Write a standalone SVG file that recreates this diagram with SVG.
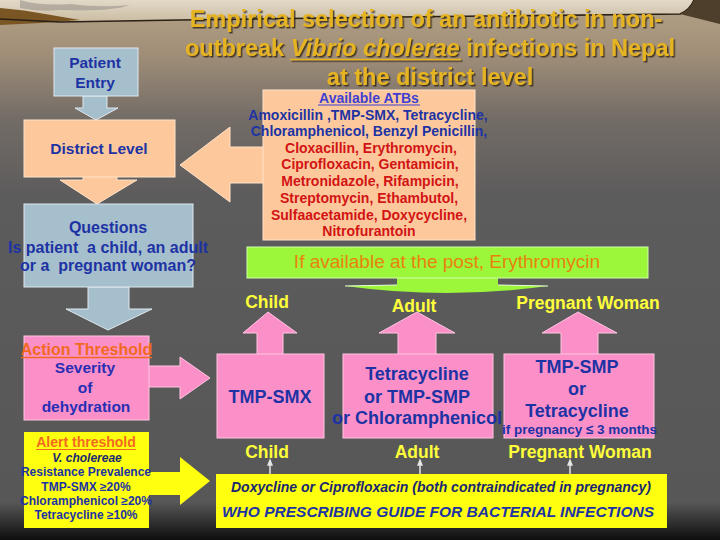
<svg xmlns="http://www.w3.org/2000/svg" width="720" height="540" viewBox="0 0 720 540">
<defs>
<linearGradient id="bg" x1="0" y1="0" x2="0" y2="1">
<stop offset="0" stop-color="#b4a286"/>
<stop offset="0.1" stop-color="#a08e78"/>
<stop offset="0.22" stop-color="#736c66"/>
<stop offset="0.36" stop-color="#5d5c5c"/>
<stop offset="0.93" stop-color="#575757"/>
<stop offset="1" stop-color="#0e0e0e"/>
</linearGradient>
<linearGradient id="sky" x1="0" y1="0" x2="0" y2="1">
<stop offset="0" stop-color="#e2d9c8"/>
<stop offset="1" stop-color="#cbbca2"/>
</linearGradient>
<filter id="sh" x="-5%" y="-20%" width="110%" height="150%">
<feDropShadow dx="1.5" dy="1.5" stdDeviation="0.6" flood-color="#2a2010" flood-opacity="0.8"/>
</filter>
<marker id="ah" viewBox="0 0 10 10" refX="5" refY="5" markerWidth="5" markerHeight="5" orient="auto">
<path d="M0,1 L10,5 L0,9 Z" fill="#e6e6e6"/>
</marker>
<style>
text{font-family:"Liberation Sans",Arial,sans-serif;font-weight:bold}
.ttl{font-size:23.5px;fill:#e6b322}
.blue{fill:#1d33a4}
.navy{fill:#1a2870}
.red{fill:#d21414}
.org{fill:#f26a1e}
.yel{fill:#ffff3a;font-size:17.5px}
.m{text-anchor:middle}
.bg-blue{fill:#a6bfcc;stroke:#dfe8ee;stroke-width:1}
.peach{fill:#fdc99c;stroke:#ffe2c8;stroke-width:1}
.pink{fill:#fb90c8;stroke:#ffc4e2;stroke-width:1}
.ylw{fill:#ffff10}
.grn{fill:#9cf63a;stroke:#d2ffac;stroke-width:1}
</style>
</defs>

<rect width="720" height="540" fill="url(#bg)"/>
<path d="M0,0 H694 Q690,10 680,14 L400,17 L180,20 L60,22 L0,19 Z" fill="url(#sky)"/>
<path d="M20,0 Q40,6 70,4 Q100,8 130,5 Q110,12 60,10 Q40,12 20,8 Z" fill="#9a958c" opacity="0.6"/>
<path d="M0,8 Q25,10 45,14 L80,20 L40,23 L0,25 Z" fill="#7a5624"/>
<path d="M0,19 L60,22 L180,20 L400,17 L680,14 Q690,10 694,0" fill="none" stroke="#2a2016" stroke-width="1.6"/>
<path d="M694,0 Q690,10 680,14 L720,24 V0 Z" fill="#4e3e2c"/>

<g id="title" filter="url(#sh)">
<text class="ttl m" x="426" y="27">Empirical selection of an antibiotic in non-</text>
<text class="ttl m" x="430" y="56">outbreak <tspan font-style="italic">Vibrio cholerae</tspan> infections in Nepal</text>
<line x1="290" y1="59.5" x2="461" y2="59.5" stroke="#e6b322" stroke-width="1.6"/>
<text class="ttl m" x="430" y="85">at the district level</text>
</g>

<g id="connectors">
<polygon class="bg-blue" points="83,96 107,96 107,108 118,108 96,120 75,108 83,108" stroke="none"/>
<polygon class="peach" points="83,176 117,176 117,180 137,180 97,204 60,180 83,180" stroke="none"/>
<polygon class="peach" points="264,147 230,147 230,127 180,165 230,202 230,183 264,183" stroke="none"/>
<polygon class="bg-blue" points="88,287 129,287 129,309 152,309 108,330 66,309 88,309" stroke="none"/>
<polygon class="pink" points="148,366 180,366 180,357 210,378 180,399 180,387 148,387" stroke="none"/>
<polygon class="ylw" points="148,472 180,472 180,457 210,481 180,505 180,495 148,495"/>
<polygon class="pink" points="257,355 257,333 243,333 268,312 297,333 283,333 283,355" stroke="none"/>
<polygon class="pink" points="398,355 398,333 379,333 417,312 455,333 436,333 436,355" stroke="none"/>
<polygon class="pink" points="561,355 561,333 542,333 578,312 617,333 598,333 598,355" stroke="none"/>
<path d="M397,277 L397,285 L345,286 Q447,300 548,286 L498,285 L498,277 Z" fill="#9cf63a"/>
<line x1="345" y1="286" x2="397" y2="285" stroke="#e8ffd8" stroke-width="1"/>
<line x1="498" y1="285" x2="548" y2="286" stroke="#e8ffd8" stroke-width="1"/>
<line x1="270" y1="474" x2="270" y2="462" stroke="#e6e6e6" stroke-width="1.5" marker-end="url(#ah)"/>
<line x1="420" y1="474" x2="420" y2="462" stroke="#e6e6e6" stroke-width="1.5" marker-end="url(#ah)"/>
<line x1="570" y1="474" x2="570" y2="462" stroke="#e6e6e6" stroke-width="1.5" marker-end="url(#ah)"/>
</g>

<g id="patient-entry">
<rect class="bg-blue" x="54" y="48" width="84" height="48"/>
<text class="blue m" x="95" y="68" font-size="15.5">Patient</text>
<text class="blue m" x="95" y="88" font-size="15.5">Entry</text>
</g>

<g id="district-level">
<rect class="peach" x="24" y="120" width="151" height="57"/>
<text class="blue m" x="99" y="154" font-size="15.5">District Level</text>
</g>

<g id="available-atbs">
<rect class="peach" x="263" y="90" width="212" height="150"/>
<g class="m" font-size="14">
<text class="m" x="369" y="102.5" fill="#3f3fd2">Available ATBs</text>
<line x1="318" y1="105" x2="420" y2="105" stroke="#3f3fd2" stroke-width="1.2"/>
<text class="blue m" x="368" y="119.5" xml:space="preserve">Amoxicillin ,TMP-SMX, Tetracycline,</text>
<text class="blue m" x="369" y="136">Chloramphenicol, Benzyl Penicillin,</text>
<text class="red m" x="371" y="152.5">Cloxacillin, Erythromycin,</text>
<text class="red m" x="370" y="169">Ciprofloxacin, Gentamicin,</text>
<text class="red m" x="370" y="186">Metronidazole, Rifampicin,</text>
<text class="red m" x="369" y="202.5">Streptomycin, Ethambutol,</text>
<text class="red m" x="369" y="219.5">Sulfaacetamide, Doxycycline,</text>
<text class="red m" x="369" y="236">Nitrofurantoin</text>
</g>
</g>

<g id="questions">
<rect class="bg-blue" x="24" y="204" width="169" height="83"/>
<text class="blue m" x="108" y="233" font-size="16">Questions</text>
<text class="blue m" x="108" y="253" font-size="16" xml:space="preserve">Is patient  a child, an adult</text>
<text class="blue m" x="108" y="271" font-size="16" xml:space="preserve">or a  pregnant woman?</text>
</g>

<g id="erythromycin">
<rect class="grn" x="247" y="247" width="401" height="31"/>
<text class="m" x="447" y="268" font-size="19" style="font-weight:normal" fill="#e8820e">If available at the post, Erythromycin</text>
</g>

<g id="action-threshold">
<rect class="pink" x="24" y="336" width="125" height="84"/>
<text class="org m" x="86.5" y="355" font-size="16">Action Threshold</text>
<line x1="21" y1="357.5" x2="152" y2="357.5" stroke="#f26a1e" stroke-width="1.4"/>
<text class="m" x="85" y="373" font-size="15.5" fill="#2a2eb4">Severity</text>
<text class="m" x="85" y="393" font-size="15.5" fill="#2a2eb4">of</text>
<text class="m" x="86" y="412" font-size="15.5" fill="#2a2eb4">dehydration</text>
</g>

<g id="alert-threshold">
<rect class="ylw" x="24" y="432" width="125" height="96"/>
<text class="org m" x="86" y="447" font-size="14">Alert threshold</text>
<line x1="36" y1="449.5" x2="136" y2="449.5" stroke="#f26a1e" stroke-width="1.2"/>
<text class="navy m" x="87" y="462" font-size="12" font-style="italic">V. cholereae</text>
<text class="blue m" x="86" y="476" font-size="12">Resistance Prevalence</text>
<text class="blue m" x="86" y="491" font-size="12">TMP-SMX ≥20%</text>
<text class="blue m" x="86" y="505" font-size="12">Chloramphenicol ≥20%</text>
<text class="blue m" x="86" y="519" font-size="12">Tetracycline ≥10%</text>
</g>

<g id="child-label">
<text class="yel m" x="267" y="308">Child</text>
</g>
<g id="adult-label">
<text class="yel m" x="414" y="312">Adult</text>
</g>
<g id="pregnant-label">
<text class="yel m" x="588" y="309">Pregnant Woman</text>
</g>

<g id="child-box">
<rect class="pink" x="217" y="354" width="107" height="84"/>
<text class="blue m" x="270" y="403" font-size="18">TMP-SMX</text>
</g>

<g id="adult-box">
<rect class="pink" x="343" y="354" width="150" height="84"/>
<text class="blue m" x="417" y="380" font-size="18">Tetracycline</text>
<text class="blue m" x="417" y="403" font-size="18">or TMP-SMP</text>
<text class="blue m" x="417" y="424" font-size="18">or Chloramphenicol</text>
</g>

<g id="pregnant-box">
<rect class="pink" x="504" y="354" width="150" height="84"/>
<text class="blue m" x="577" y="373" font-size="18">TMP-SMP</text>
<text class="blue m" x="577" y="395" font-size="18">or</text>
<text class="blue m" x="577" y="417" font-size="18">Tetracycline</text>
<text class="blue m" x="579.5" y="434" font-size="13.5">if pregnancy ≤ 3 months</text>
</g>

<g id="bottom-labels">
<text class="yel m" x="267" y="458">Child</text>
<text class="yel m" x="417" y="458">Adult</text>
<text class="yel m" x="580" y="458">Pregnant Woman</text>
</g>

<g id="who-guide">
<rect class="ylw" x="216" y="474" width="451" height="54"/>
<text class="navy m" x="441" y="492" font-size="14" font-style="italic">Doxycline or Ciprofloxacin (both contraindicated in pregnancy)</text>
<text class="blue m" x="438" y="517" font-size="15.5" font-style="italic">WHO PRESCRIBING GUIDE FOR BACTERIAL INFECTIONS</text>
</g>
</svg>
